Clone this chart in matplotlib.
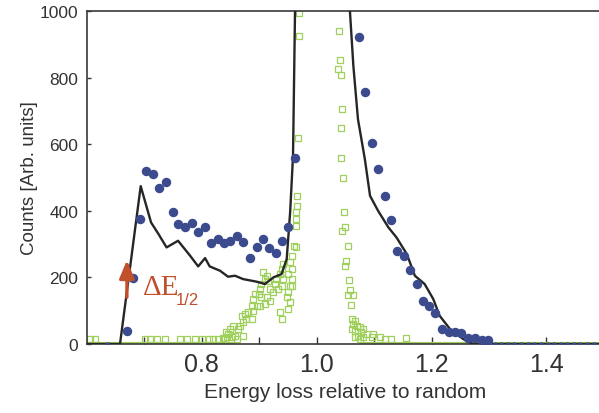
import matplotlib
matplotlib.use("Agg")
import matplotlib.pyplot as plt
from matplotlib.patches import FancyArrowPatch

plt.rcParams['font.family'] = ['Liberation Sans', 'DejaVu Sans']

# ---------- data

# simulation (black line)
line_x = [0.600, 0.658, 0.694, 0.712, 0.725, 0.739, 0.759, 0.780, 0.794, 0.806,
          0.814, 0.832, 0.846, 0.858, 0.872, 0.896, 0.910, 0.925, 0.939, 0.948,
          0.954, 0.959, 0.9625, 0.968, 1.010, 1.052, 1.058, 1.064, 1.072, 1.084,
          1.093, 1.107, 1.125, 1.139, 1.157, 1.171, 1.188, 1.203, 1.214, 1.232,
          1.255, 1.272, 1.500]
line_y = [0, 0, 474, 365, 330, 290, 310, 265, 233, 258,
          233, 220, 202, 205, 195, 187, 180, 200, 210, 255,
          396, 565, 1000, 1700, 3500, 1400, 1000, 835, 675, 555,
          445, 400, 350, 320, 270, 205, 180, 135, 85, 45,
          15, 0, 0]

# channeled spectrum (blue dots)
blue_x = [0.670, 0.681, 0.693, 0.704, 0.715, 0.726, 0.738, 0.750, 0.759, 0.771,
          0.783, 0.794, 0.806, 0.816, 0.828, 0.839, 0.849, 0.861, 0.872, 0.884,
          0.896, 0.906, 0.918, 0.929, 0.939, 0.951, 0.962,
          1.074, 1.085, 1.096, 1.107, 1.119, 1.130, 1.140, 1.152, 1.162, 1.174,
          1.185, 1.196, 1.206, 1.219, 1.231, 1.241, 1.252, 1.264, 1.275, 1.287,
          1.298]
blue_y = [38, 198, 375, 520, 512, 468, 487, 395, 360, 350,
          362, 335, 352, 302, 315, 302, 310, 323, 307, 258,
          292, 315, 288, 272, 310, 352, 558,
          923, 756, 604, 525, 445, 373, 280, 265, 223, 180,
          128, 115, 93, 45, 37, 37, 33, 17, 17, 13,
          12]
blue_zero_x = [0.635, 1.310, 1.321, 1.333, 1.344, 1.356, 1.367, 1.379, 1.390,
               1.402, 1.413, 1.425, 1.436, 1.448, 1.459, 1.471, 1.482, 1.494]

# random spectrum (green open squares)
green_x = [0.606, 0.614, 0.701, 0.710, 0.722, 0.736, 0.762, 0.774, 0.788, 0.800,
           0.812, 0.820, 0.829, 0.838, 0.844, 0.841, 0.843, 0.846, 0.849, 0.852,
           0.855, 0.858, 0.861, 0.864, 0.867, 0.870, 0.872, 0.872, 0.875, 0.878,
           0.881, 0.887, 0.887, 0.890, 0.890, 0.893, 0.896, 0.899, 0.902, 0.902,
           0.904, 0.904, 0.907, 0.910, 0.910, 0.913, 0.913, 0.916, 0.919, 0.919,
           0.925, 0.928, 0.930, 0.933, 0.936, 0.936, 0.939, 0.939, 0.939, 0.942,
           0.942, 0.948, 0.951, 0.951, 0.951, 0.954, 0.954, 0.954, 0.957, 0.957,
           0.957, 0.958, 0.961, 0.964, 0.964, 0.964, 0.965, 0.966, 0.966, 0.968,
           0.970, 0.970,
           1.038, 1.039, 1.041, 1.043, 1.045, 1.042, 1.042, 1.046, 1.048, 1.050,
           1.045, 1.055, 1.052, 1.049, 1.056, 1.058, 1.064, 1.055, 1.060, 1.061,
           1.067, 1.064, 1.070, 1.075, 1.081, 1.061, 1.067, 1.078, 1.087, 1.099,
           1.072, 1.081, 1.096, 1.110, 1.119, 1.130, 1.156, 1.067, 1.075]
green_y = [15, 15, 15, 15, 15, 15, 15, 15, 15, 15,
           15, 15, 15, 18, 22, 15, 35, 30, 45, 20,
           55, 25, 15, 45, 55, 85, 65, 25, 90, 75,
           95, 115, 75, 135, 100, 150, 115, 150, 165, 115,
           180, 140, 215, 195, 120, 205, 140, 190, 165, 130,
           155, 180, 195, 165, 210, 95, 225, 175, 75, 240,
           195, 140, 210, 155, 105, 245, 175, 125, 265, 225,
           195, 175, 295, 290, 395, 355, 375, 445, 415, 618,
           925, 995,
           825, 940, 853, 808, 705, 648, 558, 498, 397, 352,
           338, 293, 250, 233, 193, 163, 147, 147, 118, 75,
           70, 60, 55, 50, 45, 45, 40, 35, 30, 30,
           25, 20, 20, 20, 15, 15, 17, 20, 15]
# the dense run of zero-count squares shows as a solid band
green_band_x = [[0.600, 0.858], [1.075, 1.500]]

xticks = [0.8, 1.0, 1.2, 1.4]
xminor = [0.7, 0.9, 1.1, 1.3]
yticks = [0, 200, 400, 600, 800, 1000]

# ---------- plot

fig = plt.figure(figsize=(5.99, 4.14), dpi=100)
ax = fig.add_axes([0.1447, 0.1667, 0.8636, 0.8043])

GREEN = '#9fd05c'
BLUE = '#3c4b8e'
RED = '#c0502c'

for seg in green_band_x:
    ax.plot(seg, [0, 0], color=GREEN, lw=3.0, solid_capstyle='butt', zorder=2)
ax.plot(green_x, green_y, 's', ms=4.8, mfc='none', mec=GREEN, mew=0.9, zorder=2)
ax.plot(line_x, line_y, '-', color='#262626', lw=1.7, zorder=3)
ax.plot(blue_x, blue_y, 'o', ms=5.8, color=BLUE, mec=BLUE, zorder=4)
ax.plot(blue_zero_x, [0] * len(blue_zero_x), 'o', ms=2.2, color=BLUE, zorder=4)

arrow = FancyArrowPatch((0.670, 132), (0.670, 260), arrowstyle='-|>,head_length=0.6,head_width=0.25',
                        mutation_scale=18, lw=2.4, color=RED, zorder=5)
ax.add_patch(arrow)
ax.text(0.6985, 150, '\u0394E', color=RED, fontsize=21, family=['Liberation Serif'], zorder=5)
ax.text(0.7545, 120, '1/2', color=RED, fontsize=12, zorder=5)

ax.set_xlim(0.6, 1.5)
ax.set_ylim(0, 1000)
ax.set_xticks(xticks)
ax.set_xticklabels([f"{t:.1f}" for t in xticks])
ax.set_xticks(xminor, minor=True)
ax.set_yticks(yticks)

ax.tick_params(axis='x', which='both', direction='in', length=5, width=1, top=False,
               labelsize=18, colors='#333333', pad=6)
ax.tick_params(axis='y', which='both', direction='in', length=3, width=1, right=True,
               labelsize=12.5, colors='#333333', pad=6)
for s in ax.spines.values():
    s.set_color('#3a3a3a')
    s.set_linewidth(1.2)

ax.set_xlabel("Energy loss relative to random", fontsize=15, color='#333333', labelpad=4)
ax.set_ylabel("Counts [Arb. units]", fontsize=13.5, color='#333333', labelpad=1)

fig.savefig("out.png", dpi=100)
